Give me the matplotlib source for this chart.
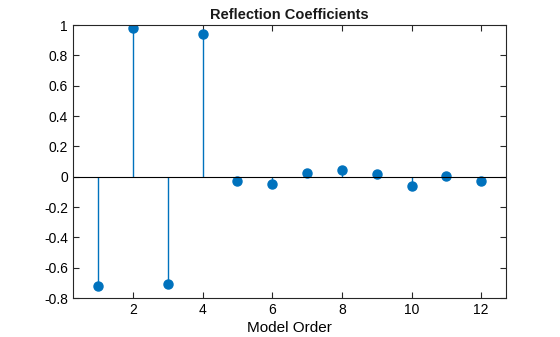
import matplotlib.pyplot as plt
import numpy as np

plt.rcParams.update(
    {
        "font.family": ["Liberation Sans", "DejaVu Sans"],
        "font.size": 10,
        "xtick.direction": "in",
        "ytick.direction": "in",
        "xtick.top": True,
        "ytick.right": True,
    }
)

BLUE = "#0072BD"

# Reflection coefficients
model_order = [1, 2, 3, 4, 5, 6, 7, 8, 9, 10, 11, 12]
coeffs = [-0.722, 0.978, -0.709, 0.939, -0.028, -0.048, 0.024, 0.042, 0.016, -0.061, 0.003, -0.030]
x_ticks = [2, 4, 6, 8, 10, 12]
y_ticks = [-0.8, -0.6, -0.4, -0.2, 0, 0.2, 0.4, 0.6, 0.8, 1]

fig = plt.figure(figsize=(5.6, 3.37), dpi=100)
ax = fig.add_axes([0.130, 0.1157, 0.774, 0.810])

markerline, stemlines, baseline = ax.stem(model_order, coeffs, basefmt="k-")
plt.setp(markerline, color=BLUE, markersize=6.5)
plt.setp(stemlines, color=BLUE, linewidth=1.0)
plt.setp(baseline, color="black", linewidth=0.8)
baseline.set_xdata([0, 1])
baseline.set_transform(ax.get_yaxis_transform())

ax.set_xlim(0.27, 12.72)
ax.set_ylim(-0.8, 1)
ax.set_xticks(x_ticks)
ax.set_yticks(y_ticks)
ax.set_yticklabels([f"{v:g}" for v in y_ticks])
ax.tick_params(length=4, width=0.8, colors="#262626", labelcolor="black")
for s in ax.spines.values():
    s.set_linewidth(0.8)
    s.set_color("#262626")

ax.set_xlabel("Model Order", fontsize=11, labelpad=3)
ax.set_title("Reflection Coefficients", fontsize=10.5, fontweight="bold",
             color="#1a1a1a", pad=4)

fig.savefig("out.png", dpi=100)
